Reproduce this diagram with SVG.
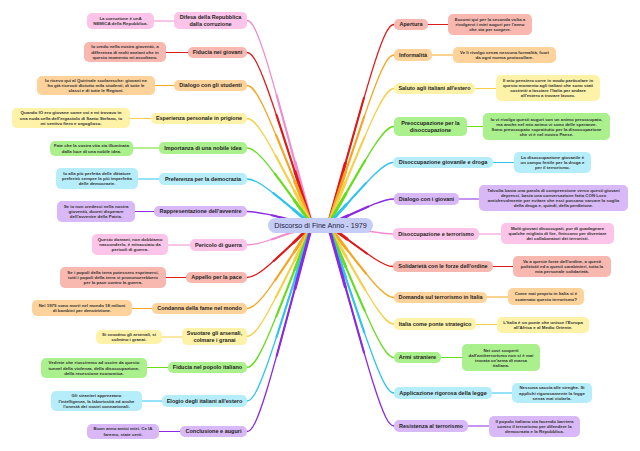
<svg xmlns="http://www.w3.org/2000/svg" width="640" height="451" viewBox="0 0 640 451">
<style>
text{font-family:"Liberation Sans",Arial,sans-serif;text-anchor:middle;fill:#222}
.b{font-size:5.5px;font-weight:bold}
.l{font-size:4.4px;font-weight:bold;fill:#333}
.c{font-size:7.2px;fill:#1c1c3a}
.m use{fill:none;stroke-linecap:round}
.m line{stroke-width:1}
.w3{stroke-width:3;stroke-dasharray:30 200}
.w2{stroke-width:2.1;stroke-dasharray:62 200}
.w1{stroke-width:1.3}
.pk{fill:#fbc4e8}.rd{fill:#f8b8af}.or{fill:#fdd29b}.ye{fill:#fdf2a8}.gr{fill:#aaf08c}.cy{fill:#b6edfb}.pu{fill:#d9b8f7}
.spk{stroke:#f08ccf}.srd{stroke:#e01a1a}.sor{stroke:#f5a623}.sye{stroke:#f7d04a}.sgr{stroke:#66dd1f}.scy{stroke:#2ec4f0}.spu{stroke:#8a2be2}
</style>
<defs>
<path id="cL1" pathLength="100" d="M312,225 C268,61.4 257,20.5 247,20.5"/>
<path id="cL2" pathLength="100" d="M312,225 C268,87 257,52.5 247,52.5"/>
<path id="cL3" pathLength="100" d="M312,225 C268,113.4 257,85.5 247,85.5"/>
<path id="cL4" pathLength="100" d="M312,225 C268,139.8 257,118.5 247,118.5"/>
<path id="cL5" pathLength="100" d="M312,225 C268,163.4 257,148 247,148"/>
<path id="cL6" pathLength="100" d="M312,225 C268,188.2 257,179 247,179"/>
<path id="cL7" pathLength="100" d="M312,225 C268,214.2 257,211.5 247,211.5"/>
<path id="cL8" pathLength="100" d="M312,225 C268,241 257,245 247,245"/>
<path id="cL9" pathLength="100" d="M312,225 C268,267 257,277.5 247,277.5"/>
<path id="cL10" pathLength="100" d="M312,225 C268,291.8 257,308.5 247,308.5"/>
<path id="cL11" pathLength="100" d="M312,225 C268,314.2 257,336.5 247,336.5"/>
<path id="cL12" pathLength="100" d="M312,225 C268,339 257,367.5 247,367.5"/>
<path id="cL13" pathLength="100" d="M312,225 C268,365.8 257,401 247,401"/>
<path id="cL14" pathLength="100" d="M312,225 C268,390.2 257,431.5 247,431.5"/>
<path id="cR1" pathLength="100" d="M328,225 C372.8,64.6 384,24.5 394,24.5"/>
<path id="cR2" pathLength="100" d="M328,225 C372.8,89 384,55 394,55"/>
<path id="cR3" pathLength="100" d="M328,225 C372.8,115.8 384,88.5 394,88.5"/>
<path id="cR4" pathLength="100" d="M328,225 C372.8,146.2 384,126.5 394,126.5"/>
<path id="cR5" pathLength="100" d="M328,225 C372.8,175 384,162.5 393,162.5"/>
<path id="cR6" pathLength="100" d="M328,225 C372.8,204.2 384,199 394,199"/>
<path id="cR7" pathLength="100" d="M328,225 C372.8,232.2 384,234 393,234"/>
<path id="cR8" pathLength="100" d="M328,225 C372.8,258.2 384,266.5 393,266.5"/>
<path id="cR9" pathLength="100" d="M328,225 C372.8,283 384,297.5 394,297.5"/>
<path id="cR10" pathLength="100" d="M328,225 C372.8,304.2 384,324 394,324"/>
<path id="cR11" pathLength="100" d="M328,225 C372.8,331 384,357.5 394,357.5"/>
<path id="cR12" pathLength="100" d="M328,225 C372.8,359.4 384,393 394,393"/>
<path id="cR13" pathLength="100" d="M328,225 C372.8,385.8 384,426 394,426"/>
</defs>
<rect width="640" height="451" fill="#ffffff"/>
<g id="connectors" class="m">
<use href="#cL1" class="spk w3"/><use href="#cL1" class="spk w2"/><use href="#cL1" class="spk w1"/>
<use href="#cL2" class="srd w3"/><use href="#cL2" class="srd w2"/><use href="#cL2" class="srd w1"/>
<use href="#cL3" class="sor w3"/><use href="#cL3" class="sor w2"/><use href="#cL3" class="sor w1"/>
<use href="#cL4" class="sye w3"/><use href="#cL4" class="sye w2"/><use href="#cL4" class="sye w1"/>
<use href="#cL5" class="sgr w3"/><use href="#cL5" class="sgr w2"/><use href="#cL5" class="sgr w1"/>
<use href="#cL6" class="scy w3"/><use href="#cL6" class="scy w2"/><use href="#cL6" class="scy w1"/>
<use href="#cL7" class="spu w3"/><use href="#cL7" class="spu w2"/><use href="#cL7" class="spu w1"/>
<use href="#cL8" class="spk w3"/><use href="#cL8" class="spk w2"/><use href="#cL8" class="spk w1"/>
<use href="#cL9" class="srd w3"/><use href="#cL9" class="srd w2"/><use href="#cL9" class="srd w1"/>
<use href="#cL10" class="sor w3"/><use href="#cL10" class="sor w2"/><use href="#cL10" class="sor w1"/>
<use href="#cL11" class="sye w3"/><use href="#cL11" class="sye w2"/><use href="#cL11" class="sye w1"/>
<use href="#cL12" class="sgr w3"/><use href="#cL12" class="sgr w2"/><use href="#cL12" class="sgr w1"/>
<use href="#cL13" class="scy w3"/><use href="#cL13" class="scy w2"/><use href="#cL13" class="scy w1"/>
<use href="#cL14" class="spu w3"/><use href="#cL14" class="spu w2"/><use href="#cL14" class="spu w1"/>
<use href="#cR1" class="srd w3"/><use href="#cR1" class="srd w2"/><use href="#cR1" class="srd w1"/>
<use href="#cR2" class="sor w3"/><use href="#cR2" class="sor w2"/><use href="#cR2" class="sor w1"/>
<use href="#cR3" class="sye w3"/><use href="#cR3" class="sye w2"/><use href="#cR3" class="sye w1"/>
<use href="#cR4" class="sgr w3"/><use href="#cR4" class="sgr w2"/><use href="#cR4" class="sgr w1"/>
<use href="#cR5" class="scy w3"/><use href="#cR5" class="scy w2"/><use href="#cR5" class="scy w1"/>
<use href="#cR6" class="spu w3"/><use href="#cR6" class="spu w2"/><use href="#cR6" class="spu w1"/>
<use href="#cR7" class="spk w3"/><use href="#cR7" class="spk w2"/><use href="#cR7" class="spk w1"/>
<use href="#cR8" class="srd w3"/><use href="#cR8" class="srd w2"/><use href="#cR8" class="srd w1"/>
<use href="#cR9" class="sor w3"/><use href="#cR9" class="sor w2"/><use href="#cR9" class="sor w1"/>
<use href="#cR10" class="sye w3"/><use href="#cR10" class="sye w2"/><use href="#cR10" class="sye w1"/>
<use href="#cR11" class="sgr w3"/><use href="#cR11" class="sgr w2"/><use href="#cR11" class="sgr w1"/>
<use href="#cR12" class="scy w3"/><use href="#cR12" class="scy w2"/><use href="#cR12" class="scy w1"/>
<use href="#cR13" class="spu w3"/><use href="#cR13" class="spu w2"/><use href="#cR13" class="spu w1"/>
<line class="spk" x1="154" y1="21" x2="174" y2="21"/>
<line class="srd" x1="166" y1="52.5" x2="188" y2="52.5"/>
<line class="sor" x1="155" y1="85.5" x2="174" y2="85.5"/>
<line class="sye" x1="130" y1="118.5" x2="151" y2="118.5"/>
<line class="sgr" x1="133" y1="148" x2="159" y2="148"/>
<line class="scy" x1="138" y1="179" x2="159" y2="179"/>
<line class="spu" x1="135" y1="211.5" x2="154" y2="211.5"/>
<line class="spk" x1="168" y1="245" x2="190" y2="245"/>
<line class="srd" x1="166" y1="277.5" x2="186" y2="277.5"/>
<line class="sor" x1="132" y1="308.5" x2="152" y2="308.5"/>
<line class="sye" x1="162" y1="337" x2="182" y2="337"/>
<line class="sgr" x1="147" y1="367.5" x2="168" y2="367.5"/>
<line class="scy" x1="142" y1="401" x2="162" y2="401"/>
<line class="spu" x1="159" y1="431.5" x2="180" y2="431.5"/>
<line class="srd" x1="428" y1="24.5" x2="448" y2="24.5"/>
<line class="sor" x1="432" y1="55" x2="453" y2="55"/>
<line class="sye" x1="475" y1="88.5" x2="496" y2="88.5"/>
<line class="sgr" x1="467" y1="126.5" x2="483" y2="126.5"/>
<line class="scy" x1="493" y1="162.5" x2="514" y2="162.5"/>
<line class="spu" x1="459" y1="199" x2="479" y2="199"/>
<line class="spk" x1="479" y1="234" x2="501" y2="234"/>
<line class="srd" x1="493" y1="266.5" x2="513" y2="266.5"/>
<line class="sor" x1="487" y1="297" x2="508" y2="297"/>
<line class="sye" x1="476" y1="324.5" x2="497" y2="324.5"/>
<line class="sgr" x1="441" y1="357.5" x2="462" y2="357.5"/>
<line class="scy" x1="492" y1="393" x2="512" y2="393"/>
<line class="spu" x1="468" y1="426" x2="489" y2="426"/>
</g>
<g id="center"><rect x="268" y="218" width="105" height="15" rx="7.5" fill="#c5cdf6"/><text class="c" x="320.5" y="228">Discorso di Fine Anno - 1979</text></g>

<g id="n-difesa"><rect class="pk" x="174" y="12" width="73" height="17" rx="5"/><text class="b" x="210.5" y="19.25">Difesa della Repubblica</text><text class="b" x="210.5" y="25.65">dalla corruzione</text></g>
<g id="l-difesa"><rect class="pk" x="87" y="13" width="67" height="16" rx="5"/><text class="l" x="120.5" y="19.95">La corruzione è unA</text><text class="l" x="120.5" y="25.15">NEMICA della Repubblica.</text></g>

<g id="n-fiducia-giovani"><rect class="rd" x="188" y="47" width="59" height="11" rx="5"/><text class="b" x="217.5" y="54.45">Fiducia nei giovani</text></g>
<g id="l-fiducia-giovani"><rect class="rd" x="84" y="42" width="82" height="20" rx="5"/><text class="l" x="125" y="48.35">Io credo nella nostra gioventù, a</text><text class="l" x="125" y="53.55">differenza di molti anziani che in</text><text class="l" x="125" y="58.75">questo momento mi ascoltano.</text></g>

<g id="n-dialogo-studenti"><rect class="or" x="174" y="80" width="73" height="11" rx="5"/><text class="b" x="210.5" y="87.45">Dialogo con gli studenti</text></g>
<g id="l-dialogo-studenti"><rect class="or" x="37" y="76" width="118" height="19" rx="5"/><text class="l" x="96" y="81.85">Io ricevo qui al Quirinale scolaresche: giovani ne</text><text class="l" x="96" y="87.05">ho già ricevuti diciotto mila studenti, di tutte le</text><text class="l" x="96" y="92.25">classi e di tutte le Regioni.</text></g>

<g id="n-esperienza"><rect class="ye" x="151" y="113" width="96" height="11" rx="5"/><text class="b" x="199" y="120.45">Esperienza personale in prigione</text></g>
<g id="l-esperienza"><rect class="ye" x="12" y="108" width="118" height="20" rx="5"/><text class="l" x="71" y="114.35">Quando IO ero giovane come voi e mi trovavo in</text><text class="l" x="71" y="119.55">una nuda cella dell'ergastolo di Santo Stefano, io</text><text class="l" x="71" y="124.75">mi sentivo fiero e orgoglioso.</text></g>

<g id="n-importanza"><rect class="gr" x="159" y="142" width="88" height="12" rx="5"/><text class="b" x="203" y="149.95">Importanza di una nobile idea</text></g>
<g id="l-importanza"><rect class="gr" x="50" y="141" width="83" height="15" rx="5"/><text class="l" x="91.5" y="147.45">Fate che la vostra vita sia illuminata</text><text class="l" x="91.5" y="152.65">dalla luce di una nobile idea.</text></g>

<g id="n-preferenza"><rect class="cy" x="159" y="173" width="88" height="12" rx="5"/><text class="b" x="203" y="180.95">Preferenza per la democrazia</text></g>
<g id="l-preferenza"><rect class="cy" x="56" y="168" width="82" height="21" rx="5"/><text class="l" x="97" y="174.85">Io alla più perfetta delle dittature</text><text class="l" x="97" y="180.05">preferirò sempre la più imperfetta</text><text class="l" x="97" y="185.25">delle democrazie.</text></g>

<g id="n-rappresentazione"><rect class="pu" x="154" y="206" width="93" height="11" rx="5"/><text class="b" x="200.5" y="213.45">Rappresentazione dell'avvenire</text></g>
<g id="l-rappresentazione"><rect class="pu" x="57" y="201" width="78" height="21" rx="5"/><text class="l" x="96" y="207.85">Se io non credessi nella nostra</text><text class="l" x="96" y="213.05">gioventù, dovrei disperare</text><text class="l" x="96" y="218.25">dell'avvenire della Patria.</text></g>

<g id="n-pericolo"><rect class="pk" x="190" y="239" width="57" height="12" rx="5"/><text class="b" x="218.5" y="246.95">Pericolo di guerra</text></g>
<g id="l-pericolo"><rect class="pk" x="92" y="234" width="76" height="21" rx="5"/><text class="l" x="130" y="240.85">Questo domani, non dobbiamo</text><text class="l" x="130" y="246.05">nasconderlo, è minacciato da</text><text class="l" x="130" y="251.25">pericoli di guerra.</text></g>

<g id="n-appello"><rect class="rd" x="186" y="272" width="61" height="11" rx="5"/><text class="b" x="216.5" y="279.45">Appello per la pace</text></g>
<g id="l-appello"><rect class="rd" x="60" y="267" width="106" height="21" rx="5"/><text class="l" x="113" y="273.85">Se i popoli della terra potessero esprimersi,</text><text class="l" x="113" y="279.05">tutti i popoli della terra si pronuncerebbero</text><text class="l" x="113" y="284.25">per la pace contro la guerra.</text></g>

<g id="n-condanna"><rect class="or" x="152" y="303" width="95" height="11" rx="5"/><text class="b" x="199.5" y="310.45">Condanna della fame nel mondo</text></g>
<g id="l-condanna"><rect class="or" x="32" y="300" width="100" height="16" rx="5"/><text class="l" x="82" y="306.95">Nel 1979 sono morti nel mondo 18 milioni</text><text class="l" x="82" y="312.15">di bambini per denutrizione.</text></g>

<g id="n-svuotare"><rect class="ye" x="182" y="328" width="65" height="17" rx="5"/><text class="b" x="214.5" y="335.25">Svuotare gli arsenali,</text><text class="b" x="214.5" y="341.65">colmare i granai</text></g>
<g id="l-svuotare"><rect class="ye" x="96" y="330" width="66" height="14" rx="5"/><text class="l" x="129" y="335.95">Si svuotino gli arsenali, si</text><text class="l" x="129" y="341.15">colmino i granai.</text></g>

<g id="n-fiducia-popolo"><rect class="gr" x="168" y="362" width="79" height="11" rx="5"/><text class="b" x="207.5" y="369.45">Fiducia nel popolo italiano</text></g>
<g id="l-fiducia-popolo"><rect class="gr" x="41" y="358" width="106" height="20" rx="5"/><text class="l" x="94" y="364.35">Vedrete che riusciremo ad uscire da questo</text><text class="l" x="94" y="369.55">tunnel della violenza, della disoccupazione,</text><text class="l" x="94" y="374.75">della recessione economica.</text></g>

<g id="n-elogio"><rect class="cy" x="162" y="395" width="85" height="12" rx="5"/><text class="b" x="204.5" y="402.95">Elogio degli italiani all'estero</text></g>
<g id="l-elogio"><rect class="cy" x="51" y="391" width="91" height="20" rx="5"/><text class="l" x="96.5" y="397.35">Gli stranieri apprezzano</text><text class="l" x="96.5" y="402.55">l'intelligenza, la laboriosità ed anche</text><text class="l" x="96.5" y="407.75">l'onestà dei nostri connazionali.</text></g>

<g id="n-conclusione"><rect class="pu" x="180" y="426" width="67" height="11" rx="5"/><text class="b" x="213.5" y="433.45">Conclusione e auguri</text></g>
<g id="l-conclusione"><rect class="pu" x="87" y="424" width="72" height="15" rx="5"/><text class="l" x="123" y="430.45">Buon anno amici miei. Ce lA</text><text class="l" x="123" y="435.65">faremo, state certi.</text></g>

<g id="n-apertura"><rect class="rd" x="394" y="19" width="34" height="11" rx="5"/><text class="b" x="411" y="26.45">Apertura</text></g>
<g id="l-apertura"><rect class="rd" x="448" y="14" width="84" height="21" rx="5"/><text class="l" x="490" y="20.85">Eccomi qui per la seconda volta a</text><text class="l" x="490" y="26.05">rivolgervi i miei auguri per l'anno</text><text class="l" x="490" y="31.25">che sta per sorgere.</text></g>

<g id="n-informalita"><rect class="or" x="394" y="49" width="38" height="12" rx="5"/><text class="b" x="413" y="56.95">Informalità</text></g>
<g id="l-informalita"><rect class="or" x="453" y="47" width="103" height="16" rx="5"/><text class="l" x="504.5" y="53.95">Ve li rivolgo senza nessuna formalità, fuori</text><text class="l" x="504.5" y="59.15">da ogni norma protocollare.</text></g>

<g id="n-saluto"><rect class="ye" x="394" y="83" width="81" height="11" rx="5"/><text class="b" x="434.5" y="90.45">Saluto agli italiani all'estero</text></g>
<g id="l-saluto"><rect class="ye" x="496" y="75" width="104" height="26" rx="5"/><text class="l" x="548" y="82.05">Il mio pensiero corre in modo particolare in</text><text class="l" x="548" y="87.05">questo momento agli italiani che sono stati</text><text class="l" x="548" y="92.05">costretti a lasciare l'Italia per andare</text><text class="l" x="548" y="97.05">all'estero a trovare lavoro.</text></g>

<g id="n-preoccupazione"><rect class="gr" x="394" y="117" width="73" height="19" rx="5"/><text class="b" x="430.5" y="125.25">Preoccupazione per la</text><text class="b" x="430.5" y="131.65">disoccupazione</text></g>
<g id="l-preoccupazione"><rect class="gr" x="483" y="113" width="127" height="27" rx="5"/><text class="l" x="546.5" y="120.55">Io vi rivolgo questi auguri con un animo preoccupato,</text><text class="l" x="546.5" y="125.55">ma anche nel mio animo vi sono delle speranze.</text><text class="l" x="546.5" y="130.55">Sono preoccupato soprattutto per la disoccupazione</text><text class="l" x="546.5" y="135.55">che vi è nel nostro Paese.</text></g>

<g id="n-disocc-giovanile"><rect class="cy" x="393" y="157" width="100" height="11" rx="5"/><text class="b" x="443" y="164.45">Disoccupazione giovanile e droga</text></g>
<g id="l-disocc-giovanile"><rect class="cy" x="514" y="152" width="77" height="21" rx="5"/><text class="l" x="552.5" y="158.85">La disoccupazione giovanile è</text><text class="l" x="552.5" y="164.05">un campo fertile per la droga e</text><text class="l" x="552.5" y="169.25">per il terrorismo.</text></g>

<g id="n-dialogo-giovani"><rect class="pu" x="394" y="193" width="65" height="12" rx="5"/><text class="b" x="426.5" y="200.95">Dialogo con i giovani</text></g>
<g id="l-dialogo-giovani"><rect class="pu" x="479" y="185" width="149" height="26" rx="5"/><text class="l" x="553.5" y="192.05">Talvolta basta una parola di comprensione verso questi giovani</text><text class="l" x="553.5" y="197.05">depressi, basta una conversazione fatta CON Loro</text><text class="l" x="553.5" y="202.05">amichevolmente per evitare che essi possano varcare la soglia</text><text class="l" x="553.5" y="207.05">della droga e, quindi, della perdizione.</text></g>

<g id="n-disocc-terrorismo"><rect class="pk" x="393" y="228" width="86" height="12" rx="5"/><text class="b" x="436" y="235.95">Disoccupazione e terrorismo</text></g>
<g id="l-disocc-terrorismo"><rect class="pk" x="501" y="223" width="113" height="21" rx="5"/><text class="l" x="557.5" y="229.85">Molti giovani disoccupati, pur di guadagnare</text><text class="l" x="557.5" y="235.05">qualche migliaio di lire, finiscono per diventare</text><text class="l" x="557.5" y="240.25">dei collaboratori dei terroristi.</text></g>

<g id="n-solidarieta"><rect class="rd" x="393" y="261" width="100" height="11" rx="5"/><text class="b" x="443" y="268.45">Solidarietà con le forze dell'ordine</text></g>
<g id="l-solidarieta"><rect class="rd" x="513" y="256" width="98" height="21" rx="5"/><text class="l" x="562" y="262.85">Va a queste forze dell'ordine, a questi</text><text class="l" x="562" y="268.05">poliziotti ed a questi carabinieri, tutta la</text><text class="l" x="562" y="273.25">mia personale solidarietà.</text></g>

<g id="n-domanda"><rect class="or" x="394" y="292" width="93" height="11" rx="5"/><text class="b" x="440.5" y="299.45">Domanda sul terrorismo in Italia</text></g>
<g id="l-domanda"><rect class="or" x="508" y="288" width="76" height="17" rx="5"/><text class="l" x="546" y="295.45">Come mai proprio in Italia si è</text><text class="l" x="546" y="300.65">scatenato questo terrorismo?</text></g>

<g id="n-ponte"><rect class="ye" x="394" y="318" width="82" height="12" rx="5"/><text class="b" x="435" y="325.95">Italia come ponte strategico</text></g>
<g id="l-ponte"><rect class="ye" x="497" y="317" width="92" height="16" rx="5"/><text class="l" x="543" y="323.95">L'Italia è un ponte che unisce l'Europa</text><text class="l" x="543" y="329.15">all'Africa e al Medio Oriente.</text></g>

<g id="n-armi"><rect class="gr" x="394" y="352" width="47" height="11" rx="5"/><text class="b" x="417.5" y="359.45">Armi straniere</text></g>
<g id="l-armi"><rect class="gr" x="462" y="344" width="78" height="27" rx="5"/><text class="l" x="501" y="351.55">Nei covi scoperti</text><text class="l" x="501" y="356.55">dall'antiterrorismo non si è mai</text><text class="l" x="501" y="361.55">trovata un'arma di marca</text><text class="l" x="501" y="366.55">italiana.</text></g>

<g id="n-applicazione"><rect class="cy" x="394" y="387" width="98" height="12" rx="5"/><text class="b" x="443" y="394.95">Applicazione rigorosa della legge</text></g>
<g id="l-applicazione"><rect class="cy" x="512" y="383" width="80" height="20" rx="5"/><text class="l" x="552" y="389.35">Nessuna caccia alle streghe. Si</text><text class="l" x="552" y="394.55">applichi rigorosamente la legge</text><text class="l" x="552" y="399.75">senza mai violarla.</text></g>

<g id="n-resistenza"><rect class="pu" x="394" y="420" width="74" height="12" rx="5"/><text class="b" x="431" y="427.95">Resistenza al terrorismo</text></g>
<g id="l-resistenza"><rect class="pu" x="489" y="416" width="91" height="21" rx="5"/><text class="l" x="534.5" y="422.85">Il popolo italiano sta facendo barriera</text><text class="l" x="534.5" y="428.05">contro il terrorismo per difendere la</text><text class="l" x="534.5" y="433.25">democrazia e la Repubblica.</text></g>
</svg>
